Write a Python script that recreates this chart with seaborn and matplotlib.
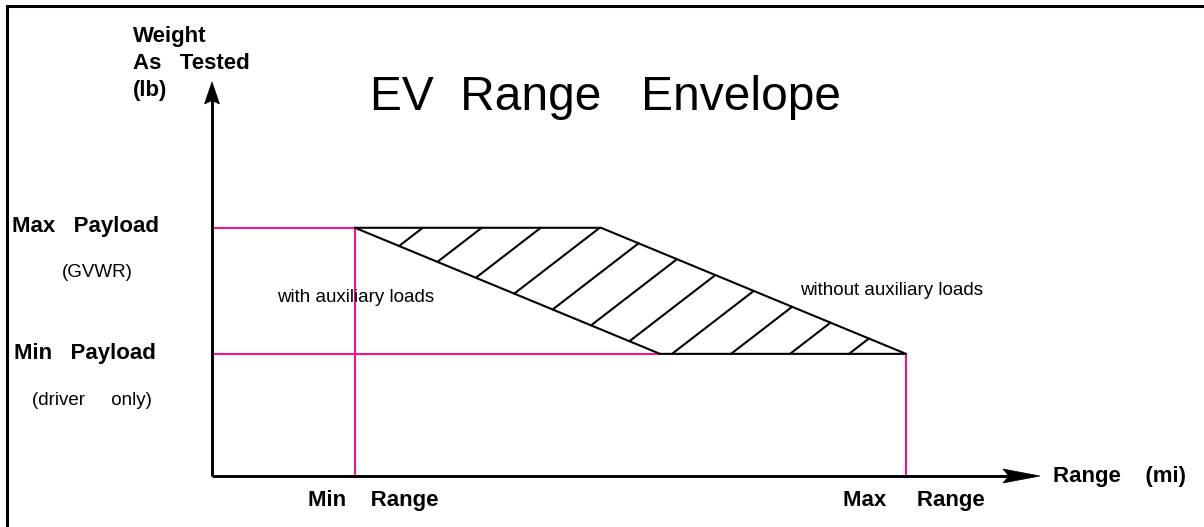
import numpy as np
import pandas as pd
import matplotlib
matplotlib.use("Agg")
import matplotlib.pyplot as plt
from matplotlib.patches import Polygon
from matplotlib.lines import Line2D
import seaborn as sns

# ---- envelope values (chart units) ----
min_range = 20.6
max_range = 100.0
range_without_aux_full_load = 56.05   # range without auxiliary loads at max payload
range_with_aux_light_load = 64.55     # range with auxiliary loads at min payload
max_payload = 63.0
min_payload = 31.0
axis_x_end = 119.3
axis_y_end = 100.0

title = "EV  Range   Envelope"
y_axis_title = ["Weight", "As   Tested", "(lb)"]
x_axis_title = "Range    (mi)"
range_labels = ["Min    Range", "Max     Range"]
payload_labels = ["Max   Payload", "Min   Payload"]
payload_notes = ["(GVWR)", "(driver     only)"]
curve_labels = ["with auxiliary loads", "without auxiliary loads"]

# ---- layout ----
W_PX, H_PX = 1204, 527
ORIGIN_PX = (212, 476)
X_PX_PER_UNIT = 6.94
Y_PX_PER_UNIT = 3.94
PINK = "#f2168c"
FONT = ["Liberation Sans", "DejaVu Sans"]

sns.set_theme(style="white")
plt.rcParams["font.family"] = FONT

fig = plt.figure(figsize=(W_PX / 100, H_PX / 100), dpi=100)
ax = fig.add_axes([0, 0, 1, 1])
ax.set_xlim(-ORIGIN_PX[0] / X_PX_PER_UNIT, (W_PX - ORIGIN_PX[0]) / X_PX_PER_UNIT)
ax.set_ylim(-(H_PX - ORIGIN_PX[1]) / Y_PX_PER_UNIT, ORIGIN_PX[1] / Y_PX_PER_UNIT)
ax.axis("off")

# outer frame (top and left edges)
fx = 6.5 / W_PX
fy = 1 - 5.5 / H_PX
fig.add_artist(Line2D([fx, fx], [0, fy], transform=fig.transFigure, color="black", lw=2.2))
fig.add_artist(Line2D([fx, 1], [fy, fy], transform=fig.transFigure, color="black", lw=2.2))

# pink reference lines for min/max payload and range
guides = pd.DataFrame({
    "seg": [0, 0, 1, 1, 2, 2, 3, 3],
    "range": [0, min_range, min_range, min_range, 0, range_with_aux_light_load, max_range, max_range],
    "weight": [max_payload, max_payload, max_payload, 0, min_payload, min_payload, min_payload, 0],
})
sns.lineplot(data=guides, x="range", y="weight", units="seg", estimator=None,
             sort=False, color=PINK, lw=1.5, ax=ax, legend=False)

# envelope outline
corners = np.array([
    [min_range, max_payload],
    [range_without_aux_full_load, max_payload],
    [max_range, min_payload],
    [range_with_aux_light_load, min_payload],
])
outline = pd.DataFrame({"range": np.r_[corners[:, 0], corners[0, 0]],
                        "weight": np.r_[corners[:, 1], corners[0, 1]]})
sns.lineplot(data=outline, x="range", y="weight", estimator=None, sort=False,
             color="black", lw=1.5, ax=ax, legend=False)

# diagonal hatching clipped to the envelope
slope = 0.77 * X_PX_PER_UNIT / Y_PX_PER_UNIT
spacing = 59 / X_PX_PER_UNIT
anchor = max_range - 57 / X_PX_PER_UNIT
for k in range(11):
    c = anchor - k * spacing

    def f(P):
        return P[0] - c - (P[1] - min_payload) / slope

    hits = []
    for i in range(4):
        p, q = corners[i], corners[(i + 1) % 4]
        fp, fq = f(p), f(q)
        if fp == fq:
            continue
        t = fp / (fp - fq)
        if 0 <= t <= 1:
            hits.append(p + t * (q - p))
    if len(hits) >= 2:
        hits = sorted(hits, key=lambda h: h[1])
        seg = pd.DataFrame({"range": [hits[0][0], hits[-1][0]],
                            "weight": [hits[0][1], hits[-1][1]]})
        sns.lineplot(data=seg, x="range", y="weight", estimator=None, sort=False,
                     color="black", lw=1.5, ax=ax, legend=False)

# axes with arrowheads
ax.plot([0, 0], [0, axis_y_end - 15 / Y_PX_PER_UNIT], color="black", lw=2.1,
        solid_capstyle="butt")
ax.plot([0, axis_x_end - 25 / X_PX_PER_UNIT], [0, 0], color="black", lw=2.1,
        solid_capstyle="butt")


def arrow_head(tip, direction, length_px, half_px, notch_px):
    inv = ax.transData.inverted()
    tip_p = ax.transData.transform(tip)
    d = np.asarray(direction, float)
    d = d / np.linalg.norm(d)
    n = np.array([-d[1], d[0]])
    base = tip_p - d * length_px
    pts = [tip_p, base + n * half_px, tip_p - d * (length_px - notch_px), base - n * half_px]
    ax.add_patch(Polygon(inv.transform(pts), closed=True, fc="black", ec="black", lw=0.5))


arrow_head((0, axis_y_end), (0, 1), 22, 7.5, 3.5)
arrow_head((axis_x_end, 0), (1, 0), 37, 7, 6)


def label(xpx, ypx, s, size, bold=False, ha="left"):
    fig.text(xpx / W_PX, 1 - ypx / H_PX, s, ha=ha, va="baseline", fontsize=size,
             fontweight="bold" if bold else "normal", family=FONT, color="black")


label(606, 110, title, 34.5, ha="center")
for text, base in zip(y_axis_title, [42, 69, 96]):
    label(133, base, text, 16, bold=True)
label(12, 232, payload_labels[0], 16, bold=True)
label(14, 359, payload_labels[1], 16, bold=True)
label(62, 277, payload_notes[0], 13.5)
label(32, 405, payload_notes[1], 13.5)
label(308, 506, range_labels[0], 16, bold=True)
label(843, 506, range_labels[1], 16, bold=True)
label(1053, 482, x_axis_title, 16, bold=True)
label(277, 302, curve_labels[0], 13.5)
label(800, 295, curve_labels[1], 13.5)

fig.savefig("out.png", dpi=100, facecolor="white")
